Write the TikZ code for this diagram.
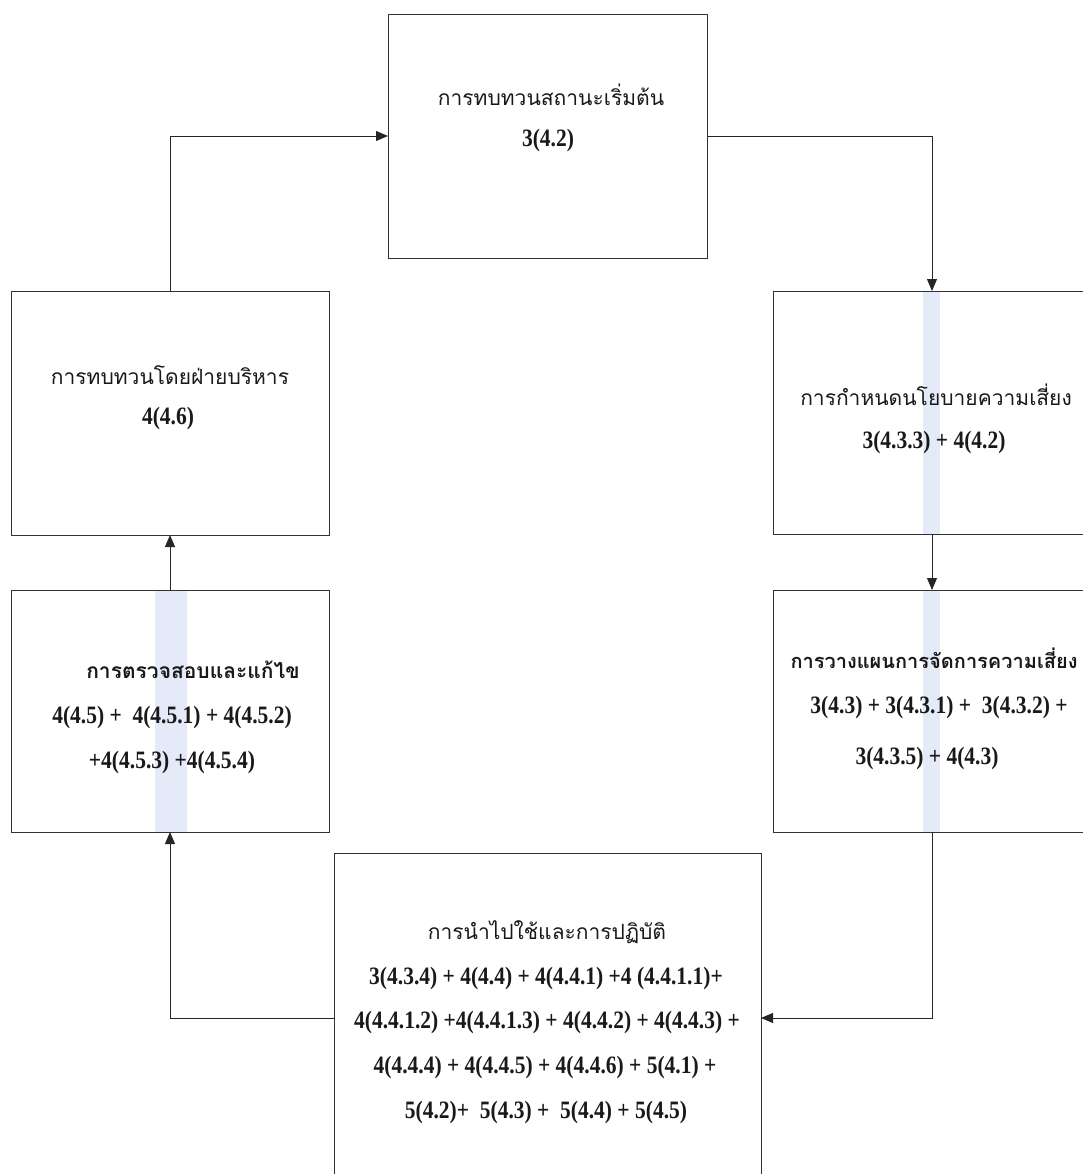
\documentclass[tikz,border=0pt]{standalone}
\usepackage{fontspec}
\setmainfont{Liberation Serif}
\newfontfamily\thaif[Script=Thai]{Loma}
\newfontfamily\numf[FakeStretch=0.86]{Liberation Serif}
\usetikzlibrary{arrows.meta}
\definecolor{bandblue}{RGB}{228,234,248}
\begin{document}
\begin{tikzpicture}[x=1pt,y=-1pt,
  box/.style={draw=black!80,line width=0.9pt,inner sep=0pt,outer sep=0pt},
  th/.style={inner sep=0pt,font=\thaif\fontsize{21}{24}\selectfont,text=black!90},
  thb/.style={th,font=\thaif\bfseries\fontsize{21}{24}\selectfont},
  nm/.style={inner sep=0pt,font=\numf\bfseries\fontsize{25}{28}\selectfont,text=black!90},
  link/.style={draw=black!85,line width=0.9pt,-{Triangle[length=12pt,width=10pt]}},
  stripe/.style={fill=bandblue,draw=none}]
\useasboundingbox (0,0) rectangle (1083,1174);
\clip (0,0) rectangle (1083,1174);
\fill[white] (0,0) rectangle (1083,1174);

% highlight bands
\fill[stripe] (155,590) rectangle (187,832);
\fill[stripe] (923,292) rectangle (940,534);
\fill[stripe] (923,590) rectangle (940,832);

% boxes
\node[box,minimum width=319pt,minimum height=244pt] (top) at (547.5,136) {};
\node[box,minimum width=318pt,minimum height=244pt] (lu) at (170,413) {};
\node[box,minimum width=318pt,minimum height=242pt] (ll) at (170,711) {};
\node[box,minimum width=318pt,minimum height=243pt] (ru) at (932,412.5) {};
\node[box,minimum width=318pt,minimum height=242pt] (rl) at (932,711) {};
\node[box,minimum width=427pt,minimum height=330pt] (bot) at (547.5,1018) {};

% texts
\node[th] (t1) at (551,95) {การทบทวนสถานะเริ่มต้น};
\node[nm] (t1n) at (548,140) {3(4.2)};

\node[th] (t2) at (170,375) {การทบทวนโดยฝ่ายบริหาร};
\node[nm] (t2n) at (168,418) {4(4.6)};

\node[thb] (t3) at (193,670) {การตรวจสอบและแก้ไข};
\node[nm] (t3a) at (172,717) {4(4.5) +\ \ 4(4.5.1) + 4(4.5.2)};
\node[nm] (t3b) at (172,762) {+4(4.5.3) +4(4.5.4)};

\node[th] (t4) at (936,395) {การกำหนดนโยบายความเสี่ยง};
\node[nm] (t4n) at (934,442) {3(4.3.3) + 4(4.2)};

\node[thb,font=\thaif\bfseries\fontsize{20}{24}\selectfont] (t5) at (934,658) {การวางแผนการจัดการความเสี่ยง};
\node[nm] (t5a) at (939,707) {3(4.3) + 3(4.3.1) +\ \ 3(4.3.2) +};
\node[nm] (t5b) at (927,758) {3(4.3.5) + 4(4.3)};

\node[th] (t6) at (547,932) {การนำไปใช้และการปฏิบัติ};
\node[nm] (t6a) at (546,978) {3(4.3.4) + 4(4.4) + 4(4.4.1) +4 (4.4.1.1)+};
\node[nm] (t6b) at (547,1022) {4(4.4.1.2) +4(4.4.1.3) + 4(4.4.2) + 4(4.4.3) +};
\node[nm] (t6c) at (545,1067) {4(4.4.4) + 4(4.4.5) + 4(4.4.6) + 5(4.1) +};
\node[nm] (t6d) at (546,1112) {5(4.2)+\ \ 5(4.3) +\ \ 5(4.4) + 5(4.5)};

% cycle of connectors
\draw[link] (lu.north) |- (top.west);
\draw[link] (top.east) -| (ru.north);
\draw[link] (ru.south) -- (rl.north);
\draw[link] (rl.south) |- (bot.east);
\draw[link] (bot.west) -| (ll.south);
\draw[link] (ll.north) -- (lu.south);
\end{tikzpicture}
\end{document}
